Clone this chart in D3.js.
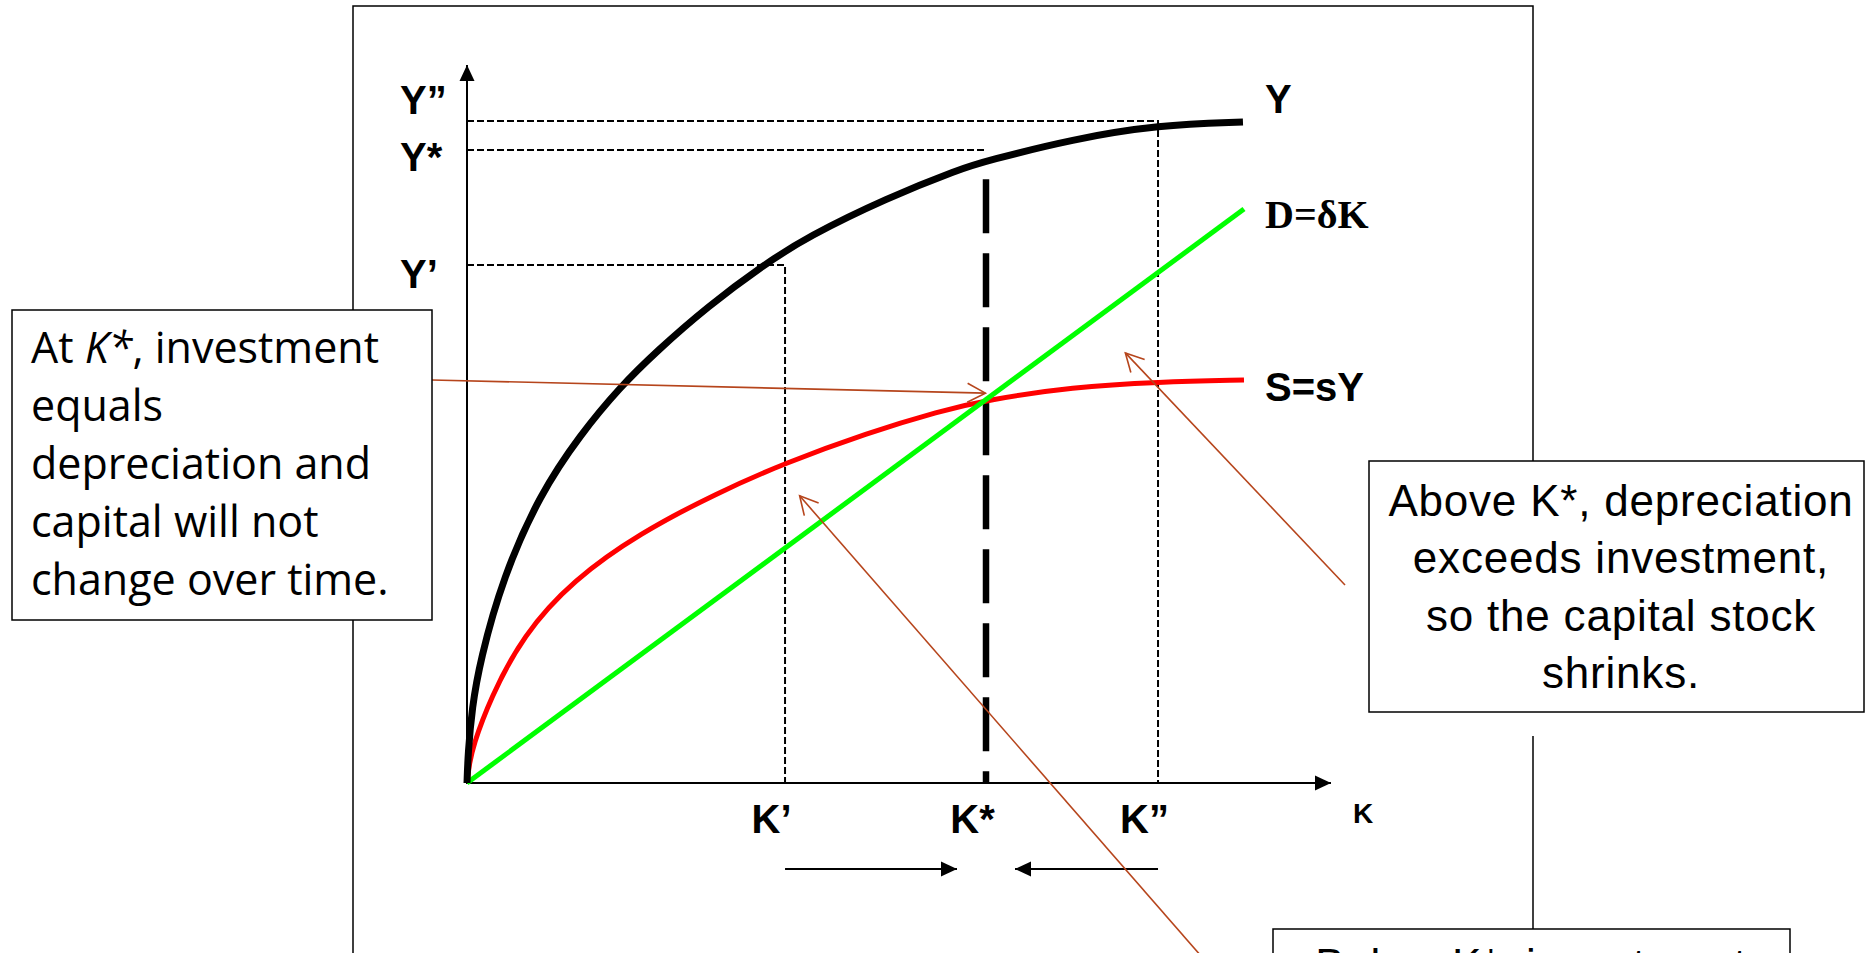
<!DOCTYPE html>
<html>
<head>
<meta charset="utf-8">
<script src="https://cdn.jsdelivr.net/npm/d3@7"></script>
<style>
  body { margin: 0; background: #fff; }
  svg { display: block; }
</style>
</head>
<body>
<div id="chart"></div>
<script>
// Solow diagram values (K on 0-100, Y on 0-100)
const kTicks = [36.81, 60.07, 79.98];
const kLabels = ["K’", "K*", "K”"];
const yTicks = [92.2, 88.16, 72.14];
const yLabels = ["Y”", "Y*", "Y’"];

const outputK = [0, 0.12, 0.58, 1.5, 4.17, 8.45, 13.08, 17.71, 21.99, 27.78, 34.49, 39.35, 48.61, 57.06, 60.07, 70.14, 79.98, 89.81];
const outputY = [0, 4.18, 10.45, 16.99, 28.69, 40.25, 48.47, 55.15, 60.17, 66.3, 72.28, 76.04, 81.48, 85.52, 86.63, 89.69, 91.64, 92.06];

const savingK = [0, 0.23, 0.69, 2.66, 6.48, 12.27, 20.02, 28.94, 36.81, 46.3, 54.75, 60.07, 70.14, 79.98, 89.93];
const savingY = [0, 2.37, 5.15, 11.7, 20.6, 28.27, 34.82, 40.39, 44.57, 48.75, 51.81, 53.34, 55.15, 55.85, 56.13];

const deprK = [0, 89.93];
const deprY = [0, 79.94];

const kStarTop = 84.1;
const curveNames = ["Y", "D=δK", "S=sY"];

const leftNote = [["At ", ["K*", true], ", investment"], ["equals"], ["depreciation and"], ["capital will not"], ["change over time."]];
const rightNote = ["Above K*, depreciation", "exceeds investment,", "so the capital stock", "shrinks."];
const bottomNote = ["Below K*, investment"];

const width = 1865, height = 953;
const brown = "#b6451c";
const boldFont = "'Liberation Sans', Arial, sans-serif";

const svg = d3.select("#chart").append("svg")
    .attr("width", width)
    .attr("height", height);

const x = d3.scaleLinear().domain([0, 100]).range([467, 1331]);
const y = d3.scaleLinear().domain([0, 100]).range([783, 65]);

// markers
const defs = svg.append("defs");
defs.append("marker").attr("id", "solid")
    .attr("markerUnits", "userSpaceOnUse")
    .attr("viewBox", "-16 -8 17 16").attr("refX", 0).attr("refY", 0)
    .attr("markerWidth", 17).attr("markerHeight", 16).attr("orient", "auto")
    .append("path").attr("d", "M-16,-7.5L0,0L-16,7.5Z").attr("fill", "#000");
defs.append("marker").attr("id", "open")
    .attr("markerUnits", "userSpaceOnUse")
    .attr("viewBox", "-22 -12 24 24").attr("refX", 0).attr("refY", 0)
    .attr("markerWidth", 24).attr("markerHeight", 24).attr("orient", "auto")
    .append("path").attr("d", "M-18,-9.5L0,0L-18,9.5")
    .attr("fill", "none").attr("stroke", brown).attr("stroke-width", 1.6);

// outer frame (right edge broken by the callouts)
const frame = svg.append("g").attr("stroke", "#000").attr("stroke-width", 1.5).attr("fill", "none");
frame.append("path").attr("d", "M353,960V6H1533V461");
frame.append("path").attr("d", "M1533,736V929");

// guide lines
const guides = svg.append("g").attr("stroke", "#000").attr("stroke-width", 2)
    .attr("stroke-dasharray", "7 3").attr("fill", "none");
guides.append("path").attr("d", `M${x(0)},${y(yTicks[0])}H${x(kTicks[2])}V${y(0)}`);
guides.append("path").attr("d", `M${x(0)},${y(yTicks[1])}H${x(kTicks[1])}`);
guides.append("path").attr("d", `M${x(0)},${y(yTicks[2])}H${x(kTicks[0])}V${y(0)}`);

svg.append("line")
    .attr("x1", x(kTicks[1])).attr("x2", x(kTicks[1]))
    .attr("y1", y(kStarTop)).attr("y2", y(0))
    .attr("stroke", "#000").attr("stroke-width", 6.5)
    .attr("stroke-dasharray", "54 20");

// axes lines with arrow heads
svg.append("line").attr("x1", x(0)).attr("y1", y(0)).attr("x2", x(0)).attr("y2", y(100))
    .attr("stroke", "#000").attr("stroke-width", 2).attr("marker-end", "url(#solid)");
svg.append("line").attr("x1", x(0) - 1).attr("y1", y(0)).attr("x2", x(100)).attr("y2", y(0))
    .attr("stroke", "#000").attr("stroke-width", 2).attr("marker-end", "url(#solid)");

// tick labels
const xAxis = d3.axisBottom(x).tickValues(kTicks)
    .tickFormat((d, i) => kLabels[i]).tickSize(0).tickPadding(22);
svg.append("g").attr("transform", `translate(0,${y(0)})`).call(xAxis)
    .call(g => g.select(".domain").remove())
    .selectAll("text")
    .attr("font-family", boldFont).attr("font-weight", "bold").attr("font-size", 40)
    .attr("fill", "#000").attr("dx", -14);

const yLabelShift = [-8, 20, 22];
const yAxis = d3.axisLeft(y).tickValues(yTicks)
    .tickFormat((d, i) => yLabels[i]).tickSize(0).tickPadding(0);
svg.append("g").attr("transform", `translate(${x(0)},0)`).call(yAxis)
    .call(g => g.select(".domain").remove())
    .selectAll("text")
    .attr("font-family", boldFont).attr("font-weight", "bold").attr("font-size", 40)
    .attr("fill", "#000").attr("text-anchor", "start")
    .attr("x", -67).attr("dy", (d, i) => yLabelShift[i]);

svg.append("text").attr("x", 1353).attr("y", 823)
    .attr("font-family", boldFont).attr("font-weight", "bold").attr("font-size", 28)
    .text("K");

// curves
const line = d3.line().x(d => x(d[0])).y(d => y(d[1])).curve(d3.curveBasis);

svg.append("path").datum(d3.zip(savingK, savingY))
    .attr("d", line).attr("fill", "none").attr("stroke", "#ff0000").attr("stroke-width", 5);
svg.append("path").datum(d3.zip(deprK, deprY))
    .attr("d", line).attr("fill", "none").attr("stroke", "#00ff00").attr("stroke-width", 5);
svg.append("path").datum(d3.zip(outputK, outputY))
    .attr("d", line).attr("fill", "none").attr("stroke", "#000").attr("stroke-width", 7);

// curve names
const nameY = [outputY[outputY.length - 1], deprY[1], savingY[savingY.length - 1]];
const nameShift = [-9, 19, 21];
svg.append("g").selectAll("text").data(curveNames).join("text")
    .attr("x", 1265)
    .attr("y", (d, i) => y(nameY[i]) + nameShift[i])
    .attr("font-family", (d, i) => i === 1 ? "'Liberation Serif', 'Times New Roman', serif" : boldFont)
    .attr("font-weight", "bold").attr("font-size", 40)
    .text(d => d);

// direction arrows along K
const arrowY = 869;
svg.append("line").attr("x1", x(kTicks[0])).attr("x2", x(kTicks[1]) - 29)
    .attr("y1", arrowY).attr("y2", arrowY)
    .attr("stroke", "#000").attr("stroke-width", 2).attr("marker-end", "url(#solid)");
svg.append("line").attr("x1", x(kTicks[2])).attr("x2", x(kTicks[1]) + 29)
    .attr("y1", arrowY).attr("y2", arrowY)
    .attr("stroke", "#000").attr("stroke-width", 2).attr("marker-end", "url(#solid)");

// callout pointers
const pointers = [
    { from: [432, 380], to: [x(60.0), y(54.3)] },
    { from: [1345, 585], to: [x(76.2), y(59.9)] },
    { from: [1215, 972], to: [x(38.5), y(40.0)] }
];
svg.append("g").selectAll("line").data(pointers).join("line")
    .attr("x1", d => d.from[0]).attr("y1", d => d.from[1])
    .attr("x2", d => d.to[0]).attr("y2", d => d.to[1])
    .attr("stroke", brown).attr("stroke-width", 1.6)
    .attr("marker-end", "url(#open)");

// callout boxes
const boxes = [
    { x: 12, y: 310, w: 420, h: 310 },
    { x: 1369, y: 461, w: 495, h: 251 },
    { x: 1273, y: 929, w: 517, h: 60 }
];
svg.append("g").selectAll("rect").data(boxes).join("rect")
    .attr("x", d => d.x).attr("y", d => d.y)
    .attr("width", d => d.w).attr("height", d => d.h)
    .attr("fill", "#fff").attr("stroke", "#000").attr("stroke-width", 1.5);

const leftText = svg.append("text")
    .attr("font-family", "'Open Sans', sans-serif").attr("font-size", 43).attr("fill", "#000");
leftNote.forEach((parts, i) => {
    parts.forEach((p, j) => {
        const isItalic = Array.isArray(p);
        const ts = leftText.append("tspan").text(isItalic ? p[0] : p);
        if (j === 0) ts.attr("x", 31).attr("y", 363 + i * 58);
        if (isItalic) ts.attr("font-style", "italic");
    });
});

svg.append("g").selectAll("text").data(rightNote).join("text")
    .attr("x", 1621).attr("y", (d, i) => 516 + i * 57.3)
    .attr("text-anchor", "middle")
    .attr("font-family", "'Liberation Sans', Arial, sans-serif").attr("font-size", 44)
    .attr("letter-spacing", 0.8)
    .text(d => d);

svg.append("g").selectAll("text").data(bottomNote).join("text")
    .attr("x", 1531).attr("y", 980)
    .attr("text-anchor", "middle")
    .attr("font-family", "'Liberation Sans', Arial, sans-serif").attr("font-size", 44)
    .attr("letter-spacing", 0.8)
    .text(d => d);
</script>
</body>
</html>
